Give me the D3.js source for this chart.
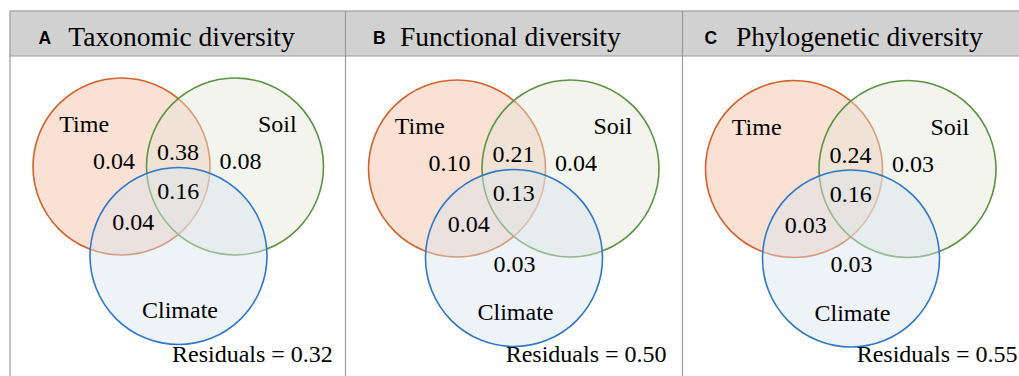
<!DOCTYPE html>
<html>
<head>
<meta charset="utf-8">
<script src="https://cdn.jsdelivr.net/npm/d3@7"></script>
<style>
  body { margin: 0; background: #fff; }
  svg { display: block; }
  .serif { font-family: "Liberation Serif", "DejaVu Serif", "Times New Roman", Times, serif; }
  .sans { font-family: "Liberation Sans", Arial, Helvetica, sans-serif; }
</style>
</head>
<body>
<div id="chart"></div>
<script>
// Data
const sets = ["Time", "Soil", "Climate"];
const panelLetters = ["A", "B", "C"];
const panelTitles = ["Taxonomic diversity", "Functional diversity", "Phylogenetic diversity"];
// regions: Time only, Time∩Soil, Soil only, all three, Time∩Climate, Climate only
const regions = ["T", "TS", "S", "TSC", "TC", "C"];
const taxonomic = [0.04, 0.38, 0.08, 0.16, 0.04, null];
const functional = [0.10, 0.21, 0.04, 0.13, 0.04, 0.03];
const phylogenetic = [null, 0.24, 0.03, 0.16, 0.03, 0.03];
const residuals = [0.32, 0.50, 0.55];

const panelValues = [taxonomic, functional, phylogenetic];

// Layout
const W = 1019, H = 376;
const edges = [10, 345.5, 682.5, 1040];
const panelDy = [0, 2, 2.5];
const headerTop = 11, headerBottom = 56;
const letterX = [28.5, 27.5, 22];
const titleX = [58.3, 54.5, 53.5];
const residualX = [162, 160.2, 174.2];

const circles = {
    Time:    {cx: 111.5, cy: 166.5, fill: "#fae1d4", opacity: 1,    stroke: "#d2622a"},
    Soil:    {cx: 225,   cy: 166.5, fill: "#e4e7d9", opacity: 0.45, stroke: "#5b9440"},
    Climate: {cx: 168.5, cy: 256,   fill: "#d9e4ef", opacity: 0.45, stroke: "#2e78c8"}
};
const r = 88.5;

const setLabelPos = {Time: [49.3, 132], Soil: [248, 132], Climate: [132, 318]};
const regionPos = {
    T: [83, 169], TS: [147, 160], S: [209.5, 169],
    TSC: [147.3, 199], TC: [102.3, 230], C: [148, 269.5]
};

const svg = d3.select("#chart").append("svg")
    .attr("width", W)
    .attr("height", H);

// Header band and frame
svg.append("rect")
    .attr("x", edges[0]).attr("y", headerTop)
    .attr("width", edges[3] - edges[0]).attr("height", headerBottom - headerTop)
    .attr("fill", "#d2d1d2");

svg.append("rect")
    .attr("x", edges[0]).attr("y", headerTop)
    .attr("width", edges[3] - edges[0]).attr("height", H + 20)
    .attr("fill", "none")
    .attr("stroke", "#9a9a9a")
    .attr("stroke-width", 1.2);

svg.append("line")
    .attr("x1", edges[0]).attr("x2", edges[3])
    .attr("y1", headerBottom).attr("y2", headerBottom)
    .attr("stroke", "#9a9a9a").attr("stroke-width", 1.2);

edges.slice(1, 3).forEach(e => {
    svg.append("line")
        .attr("x1", e).attr("x2", e)
        .attr("y1", headerTop).attr("y2", H + 5)
        .attr("stroke", "#9a9a9a").attr("stroke-width", 1.2);
});

const fmt = d3.format(".2f");

panelValues.forEach((vals, i) => {
    const ox = edges[i];
    const dy = panelDy[i];

    // header text
    svg.append("text")
        .attr("class", "sans")
        .attr("x", ox + letterX[i]).attr("y", 43.5)
        .style("font-weight", "bold")
        .style("font-size", "17.5px")
        .attr("fill", "#000")
        .text(panelLetters[i]);

    svg.append("text")
        .attr("class", "serif")
        .attr("x", ox + titleX[i]).attr("y", 46)
        .style("font-size", "27.5px")
        .attr("fill", "#000")
        .text(panelTitles[i]);

    const g = svg.append("g")
        .attr("transform", `translate(${ox}, ${dy})`);

    // circles
    sets.forEach(s => {
        const c = circles[s];
        g.append("circle")
            .attr("cx", c.cx).attr("cy", c.cy).attr("r", r)
            .attr("fill", c.fill)
            .attr("fill-opacity", c.opacity)
            .attr("stroke", c.stroke)
            .attr("stroke-width", 1.6);
    });

    // set labels
    sets.forEach(s => {
        g.append("text")
            .attr("class", "serif")
            .attr("x", setLabelPos[s][0]).attr("y", setLabelPos[s][1])
            .style("font-size", "24px")
            .attr("fill", "#000")
            .text(s);
    });

    // region values
    regions.forEach((reg, k) => {
        if (vals[k] == null) return;
        g.append("text")
            .attr("class", "serif")
            .attr("x", regionPos[reg][0]).attr("y", regionPos[reg][1])
            .style("font-size", "24px")
            .attr("fill", "#000")
            .text(fmt(vals[k]));
    });

    // residuals
    svg.append("text")
        .attr("class", "serif")
        .attr("x", ox + residualX[i]).attr("y", 361.7)
        .style("font-size", "24px")
        .attr("fill", "#000")
        .text(`Residuals = ${fmt(residuals[i])}`);
});
</script>
</body>
</html>
